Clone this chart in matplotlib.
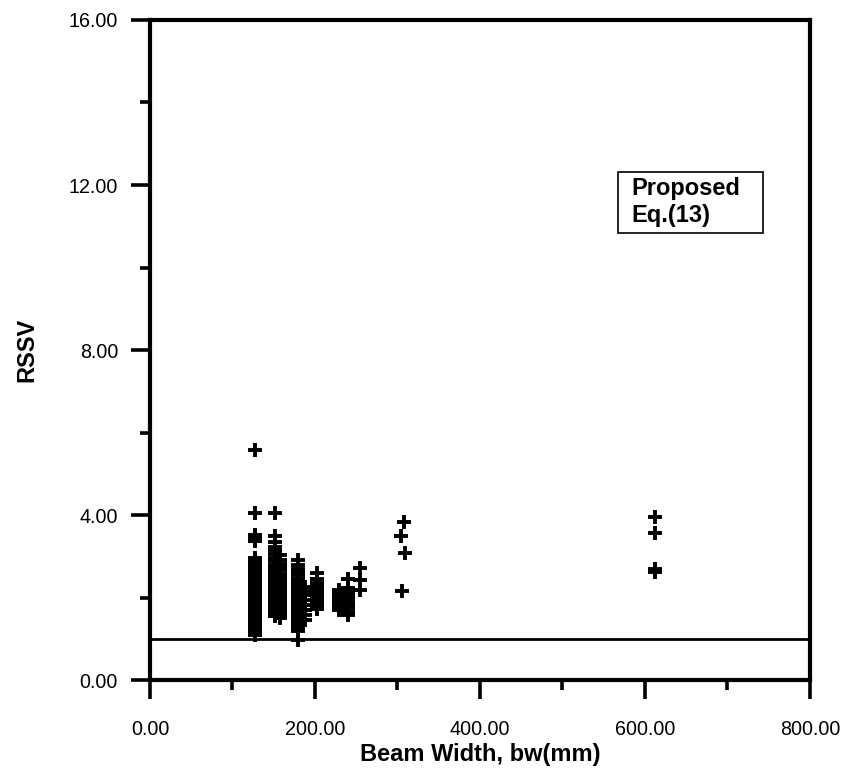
import numpy as np
import matplotlib
matplotlib.use('Agg')
import matplotlib.pyplot as plt
from matplotlib.patches import Rectangle
from matplotlib.ticker import MultipleLocator, FormatStrFormatter

plt.rcParams['font.family'] = ['Liberation Sans', 'DejaVu Sans']

# RSSV values, grouped by beam width (mm)
bw_127 = 127
rssv_127 = [1.10, 1.15, 1.20, 1.25, 1.30, 1.36, 1.42, 1.48, 1.53, 1.58, 1.64,
            1.70, 1.75, 1.80, 1.86, 1.92, 1.97, 2.02, 2.08, 2.14, 2.20, 2.25,
            2.31, 2.37, 2.43, 2.48, 2.54, 2.60, 2.66, 2.72, 2.78, 2.84, 2.90,
            2.97, 3.38, 3.45, 3.52, 4.06, 5.57]

bw_152 = 152
rssv_152 = [1.55, 1.60, 1.66, 1.72, 1.78, 1.84, 1.90, 1.96, 2.02, 2.08, 2.14,
            2.20, 2.26, 2.32, 2.38, 2.45, 2.52, 2.58, 2.65, 2.72, 2.80, 2.88,
            2.96, 3.05, 3.14, 3.22, 3.35, 3.50, 4.06]

bw_157 = 157
rssv_157 = [1.50, 1.56, 1.62, 1.68, 1.75, 1.81, 1.88, 1.94, 2.00, 2.07, 2.14,
            2.21, 2.28, 2.35, 2.42, 2.50, 2.58, 2.66, 2.74, 2.82, 2.92, 3.02]

bw_179 = 179
rssv_179 = [0.97, 1.18, 1.25, 1.32, 1.39, 1.46, 1.53, 1.60, 1.67, 1.74, 1.81,
            1.88, 1.95, 2.02, 2.09, 2.16, 2.23, 2.30, 2.38, 2.46, 2.54, 2.62,
            2.70, 2.80, 2.90]

bw_188 = 188
rssv_188 = [1.45, 1.58, 1.70, 1.82, 1.95, 2.05, 2.15, 2.25]

bw_203 = 203
rssv_203 = [1.72, 1.78, 1.84, 1.90, 1.96, 2.02, 2.08, 2.14, 2.20, 2.27, 2.34,
            2.46, 2.60]

bw_229 = 229
rssv_229 = [1.70, 1.76, 1.82, 1.88, 1.94, 2.00, 2.06, 2.12, 2.18]

bw_240 = 240
rssv_240 = [1.58, 1.66, 1.74, 1.82, 1.90, 1.98, 2.06, 2.14, 2.22, 2.45]

bw_254 = 254
rssv_254 = [2.18, 2.42, 2.72]

# scattered points
bw_other = [305, 304, 308, 309, 612, 612, 612, 612]
rssv_other = [2.17, 3.50, 3.84, 3.09, 2.62, 2.70, 3.57, 3.96]

ref_line = 1.0

groups = [(bw_127, rssv_127), (bw_152, rssv_152), (bw_157, rssv_157),
          (bw_179, rssv_179), (bw_188, rssv_188), (bw_203, rssv_203),
          (bw_229, rssv_229), (bw_240, rssv_240), (bw_254, rssv_254)]

fig = plt.figure(figsize=(8.44, 7.69), dpi=100)
ax = fig.add_axes([0.1777, 0.1157, 0.782, 0.8583])

mk = dict(linestyle='none', marker='+', color='black', markersize=10,
          markeredgewidth=2.8)
for w, vals in groups:
    ax.plot(np.full(len(vals), w), vals, **mk)
ax.plot(bw_other, rssv_other, **mk)

ax.axhline(ref_line, color='black', linewidth=2)

ax.set_xlim(0, 800)
ax.set_ylim(0, 16)
ax.xaxis.set_major_locator(MultipleLocator(200))
ax.xaxis.set_minor_locator(MultipleLocator(100))
ax.yaxis.set_major_locator(MultipleLocator(4))
ax.yaxis.set_minor_locator(MultipleLocator(2))
ax.xaxis.set_major_formatter(FormatStrFormatter('%.2f'))
ax.yaxis.set_major_formatter(FormatStrFormatter('%.2f'))

for s in ax.spines.values():
    s.set_linewidth(3)
ax.tick_params(which='major', direction='out', length=14, width=2.6,
               labelsize=14.2)
ax.tick_params(which='minor', direction='out', length=7, width=2.6)
ax.tick_params(axis='x', which='major', pad=15)
ax.tick_params(axis='y', which='major', pad=9)

ax.set_xlabel('Beam Width, bw(mm)', fontsize=17, fontweight='bold',
              labelpad=3)
ax.set_ylabel('RSSV', fontsize=17, fontweight='bold', labelpad=22)

# label box
ax.add_patch(Rectangle((0.709, 0.677), 0.220, 0.093, transform=ax.transAxes,
                       fill=False, edgecolor='black', linewidth=1.2))
ax.text(0.730, 0.762, 'Proposed\nEq.(13)', transform=ax.transAxes,
        fontsize=17, fontweight='bold', va='top', ha='left',
        linespacing=1.2)

fig.savefig('out.png', dpi=100)
